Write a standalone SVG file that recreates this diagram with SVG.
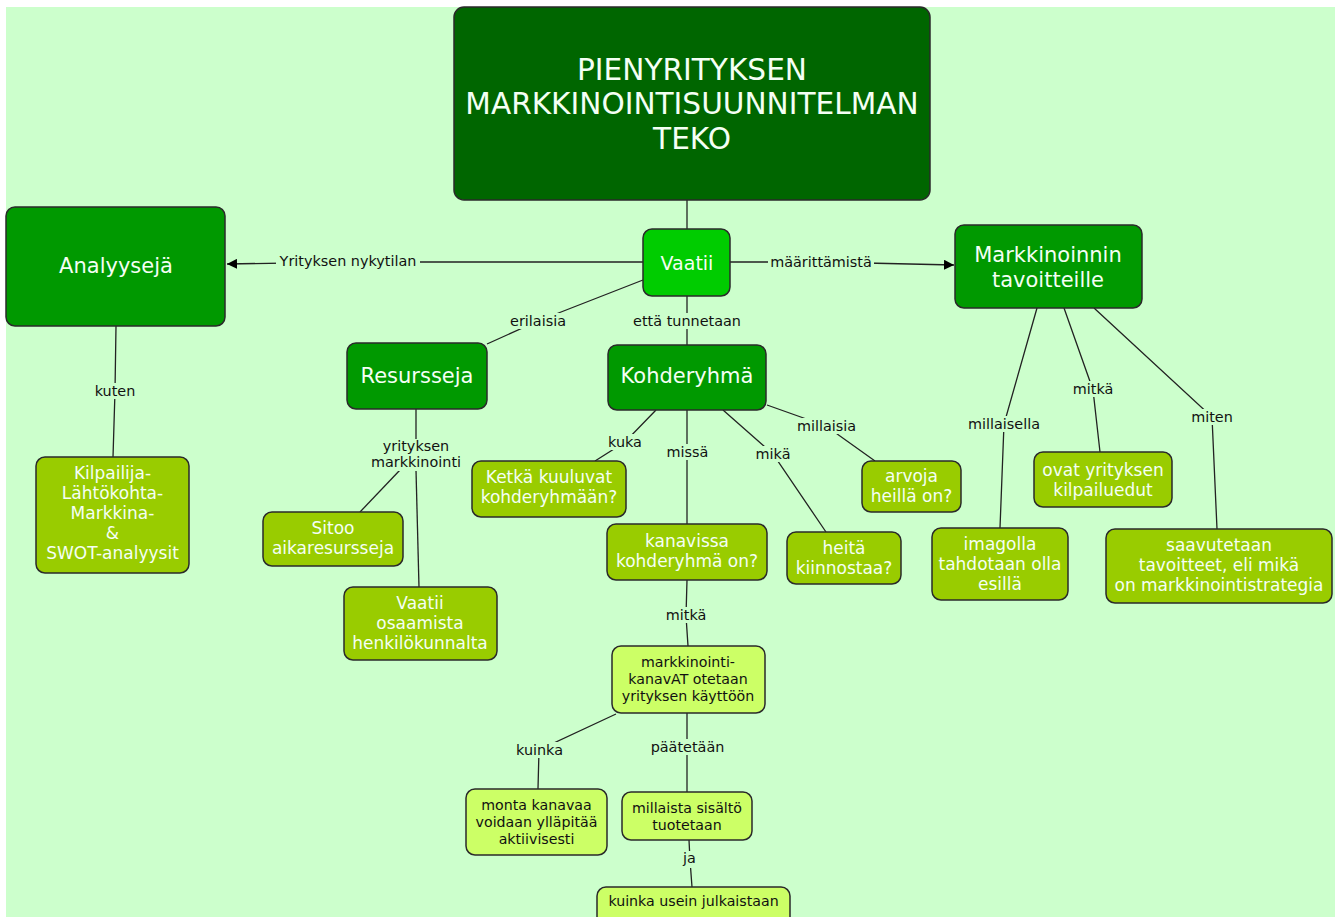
<svg xmlns="http://www.w3.org/2000/svg" width="1341" height="917" viewBox="0 0 1341 917">
<defs>
<marker id="arr" viewBox="0 0 10 10" refX="10" refY="5" markerWidth="10" markerHeight="10" markerUnits="userSpaceOnUse" orient="auto">
<path d="M0,0 L10,5 L0,10 Z" fill="#000"/>
</marker>
<style>
.node rect{stroke:#2a2a2a;stroke-width:1.5}
.t0 rect{fill:#006600}
.t1 rect{fill:#009900}
.t2 rect{fill:#00CC00}
.t3 rect{fill:#99CC00}
.t4 rect{fill:#CCFF66}
.node text{font-family:"DejaVu Sans","Liberation Sans",sans-serif;text-anchor:middle;fill:#F4FFF4}
.t4 text{fill:#111}
.big text{font-size:21px}
.mid text{font-size:17px}
.small text{font-size:14.2px}
.conn polyline,.conn line{fill:none;stroke:#222;stroke-width:1.3}
.lbl rect{fill:#CCFFCC}
.lbl text{font-family:"DejaVu Sans","Liberation Sans",sans-serif;font-size:14.4px;text-anchor:middle;fill:#111}
</style>
</defs>
<rect x="0" y="0" width="1341" height="917" fill="#ffffff"/>
<rect x="6" y="7" width="1329" height="910" fill="#CCFFCC"/>

<g id="connectors" class="conn">
<line x1="687" y1="200" x2="687" y2="229"/>
<polyline points="643,262 348,262 227,264" marker-end="url(#arr)"/>
<polyline points="730,262 821,262 954,265" marker-end="url(#arr)"/>
<polyline points="643,280 538,321 487,344"/>
<polyline points="687,296 687,321 687,345"/>
<polyline points="116,326 115,391 113,457"/>
<polyline points="416,409 416,446"/>
<polyline points="400,470 360,512"/>
<polyline points="416,470 419,587"/>
<polyline points="656,410 625,442 595,461"/>
<polyline points="687,410 687,452 687,524"/>
<polyline points="723,410 773,454 826,532"/>
<polyline points="767,405 826,426 875,461"/>
<polyline points="687,580 686,616 688,646"/>
<polyline points="616,714 539,750 538,789"/>
<polyline points="687,713 687,748 687,792"/>
<polyline points="689,840 690,860 692,887"/>
<polyline points="1037,308 1004,424 1000,528"/>
<polyline points="1064,308 1093,390 1100,452"/>
<polyline points="1094,308 1212,417 1217,529"/>
</g>

<g id="labels" class="lbl">
<rect x="276" y="253" width="144" height="16"/><text x="348" y="266">Yrityksen nykytilan</text>
<rect x="768" y="254" width="106" height="16"/><text x="821" y="267">määrittämistä</text>
<rect x="508" y="313" width="60" height="16"/><text x="538" y="326">erilaisia</text>
<rect x="631" y="313" width="112" height="16"/><text x="687" y="326">että tunnetaan</text>
<rect x="92" y="383" width="46" height="16"/><text x="115" y="396">kuten</text>
<rect x="368" y="439" width="96" height="32"/><text x="416" y="451">yrityksen</text><text x="416" y="467">markkinointi</text>
<rect x="605" y="434" width="40" height="16"/><text x="625" y="447">kuka</text>
<rect x="664" y="444" width="47" height="16"/><text x="687.5" y="457">missä</text>
<rect x="753" y="446" width="40" height="16"/><text x="773" y="459">mikä</text>
<rect x="795" y="418" width="63" height="16"/><text x="826.5" y="431">millaisia</text>
<rect x="663" y="607" width="46" height="16"/><text x="686" y="620">mitkä</text>
<rect x="513" y="742" width="53" height="16"/><text x="539.5" y="755">kuinka</text>
<rect x="649" y="739" width="77" height="16"/><text x="687.5" y="752">päätetään</text>
<rect x="680" y="851" width="19" height="17"/><text x="689.5" y="863">ja</text>
<rect x="966" y="416" width="76" height="16"/><text x="1004" y="429">millaisella</text>
<rect x="1070" y="381" width="46" height="16"/><text x="1093" y="394">mitkä</text>
<rect x="1189" y="409" width="46" height="16"/><text x="1212" y="422">miten</text>
</g>

<g id="n-title" class="node t0">
<rect x="454" y="7" width="476" height="193" rx="10"/>
<text x="692" y="80" style="font-size:29.6px">PIENYRITYKSEN</text>
<text x="692" y="114" style="font-size:29.6px">MARKKINOINTISUUNNITELMAN</text>
<text x="692" y="149" style="font-size:29.6px">TEKO</text>
</g>
<g id="n-analyyseja" class="node t1 big">
<rect x="6" y="207" width="219" height="119" rx="9"/>
<text x="116" y="273">Analyysejä</text>
</g>
<g id="n-vaatii" class="node t2">
<rect x="643" y="229" width="87" height="67" rx="9"/>
<text x="687" y="270" style="font-size:19px">Vaatii</text>
</g>
<g id="n-markkinoinnin" class="node t1 big">
<rect x="955" y="225" width="187" height="83" rx="9"/>
<text x="1048" y="262">Markkinoinnin</text>
<text x="1048" y="287">tavoitteille</text>
</g>
<g id="n-resursseja" class="node t1 big">
<rect x="347" y="343" width="140" height="66" rx="9"/>
<text x="417" y="383">Resursseja</text>
</g>
<g id="n-kohderyhma" class="node t1 big">
<rect x="608" y="345" width="158" height="65" rx="9"/>
<text x="687" y="383">Kohderyhmä</text>
</g>
<g id="n-kilpailija" class="node t3 mid">
<rect x="36" y="457" width="153" height="116" rx="9"/>
<text x="112.5" y="479">Kilpailija-</text>
<text x="112.5" y="499">Lähtökohta-</text>
<text x="112.5" y="519">Markkina-</text>
<text x="112.5" y="539">&amp;</text>
<text x="112.5" y="559">SWOT-analyysit</text>
</g>
<g id="n-sitoo" class="node t3 mid">
<rect x="263" y="512" width="140" height="54" rx="9"/>
<text x="333" y="534">Sitoo</text>
<text x="333" y="554">aikaresursseja</text>
</g>
<g id="n-osaamista" class="node t3 mid">
<rect x="344" y="587" width="153" height="73" rx="9"/>
<text x="420" y="609">Vaatii</text>
<text x="420" y="629">osaamista</text>
<text x="420" y="649">henkilökunnalta</text>
</g>
<g id="n-ketka" class="node t3 mid">
<rect x="472" y="461" width="154" height="56" rx="9"/>
<text x="549" y="483">Ketkä kuuluvat</text>
<text x="549" y="503">kohderyhmään?</text>
</g>
<g id="n-kanavissa" class="node t3 mid">
<rect x="607" y="524" width="160" height="56" rx="9"/>
<text x="687" y="547">kanavissa</text>
<text x="687" y="567">kohderyhmä on?</text>
</g>
<g id="n-heita" class="node t3 mid">
<rect x="787" y="532" width="114" height="52" rx="9"/>
<text x="844" y="554">heitä</text>
<text x="844" y="574">kiinnostaa?</text>
</g>
<g id="n-arvoja" class="node t3 mid">
<rect x="862" y="461" width="99" height="51" rx="9"/>
<text x="911.5" y="482">arvoja</text>
<text x="911.5" y="502">heillä on?</text>
</g>
<g id="n-imagolla" class="node t3 mid">
<rect x="932" y="528" width="136" height="72" rx="9"/>
<text x="1000" y="550">imagolla</text>
<text x="1000" y="570">tahdotaan olla</text>
<text x="1000" y="590">esillä</text>
</g>
<g id="n-ovat" class="node t3 mid">
<rect x="1034" y="452" width="138" height="55" rx="9"/>
<text x="1103" y="476">ovat yrityksen</text>
<text x="1103" y="496">kilpailuedut</text>
</g>
<g id="n-saavutetaan" class="node t3 mid">
<rect x="1106" y="529" width="226" height="74" rx="9"/>
<text x="1219" y="551">saavutetaan</text>
<text x="1219" y="571">tavoitteet, eli mikä</text>
<text x="1219" y="591">on markkinointistrategia</text>
</g>
<g id="n-kanavat" class="node t4 small">
<rect x="612" y="646" width="153" height="67" rx="9"/>
<text x="688" y="667">markkinointi-</text>
<text x="688" y="684">kanavAT otetaan</text>
<text x="688" y="701">yrityksen käyttöön</text>
</g>
<g id="n-monta" class="node t4 small">
<rect x="466" y="789" width="141" height="66" rx="9"/>
<text x="536.5" y="810">monta kanavaa</text>
<text x="536.5" y="827">voidaan ylläpitää</text>
<text x="536.5" y="844">aktiivisesti</text>
</g>
<g id="n-millaista" class="node t4 small">
<rect x="622" y="792" width="130" height="48" rx="9"/>
<text x="687" y="813">millaista sisältö</text>
<text x="687" y="830">tuotetaan</text>
</g>
<g id="n-kuinka-usein" class="node t4 small">
<rect x="597" y="887" width="193" height="40" rx="9"/>
<text x="693.5" y="906">kuinka usein julkaistaan</text>
</g>
</svg>
